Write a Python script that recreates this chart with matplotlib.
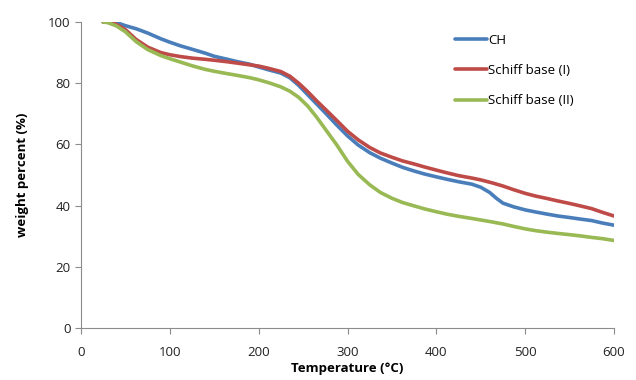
import matplotlib
matplotlib.use("Agg")
import matplotlib.pyplot as plt

temp_ch = [25, 30, 40, 50, 62, 75, 90, 100, 112, 125, 140, 150, 165, 175, 190, 200, 212, 225, 235, 245, 255, 265, 275, 288, 300, 312, 325, 337, 350, 362, 375, 387, 400, 412, 425, 440, 450, 460, 468, 475, 487, 500, 512, 525, 537, 550, 562, 575, 587, 600]
wt_ch = [100, 100.2, 99.8, 98.8, 97.8, 96.4, 94.5, 93.4, 92.2, 91.1, 89.8, 88.8, 87.8, 87.1, 86.2, 85.3, 84.3, 83.3, 81.8, 79.3, 76.3, 73.3, 70.3, 66.3, 62.8, 59.8, 57.3, 55.5, 53.9, 52.5, 51.3, 50.3, 49.4, 48.6, 47.8, 47.0, 46.0, 44.3, 42.3, 40.8, 39.6, 38.6, 37.9, 37.2, 36.6, 36.1, 35.6, 35.1, 34.3, 33.6]

temp_s1 = [25, 30, 40, 50, 62, 75, 90, 100, 112, 125, 140, 150, 165, 175, 190, 200, 212, 225, 235, 245, 255, 265, 275, 288, 300, 312, 325, 337, 350, 362, 375, 387, 400, 412, 425, 440, 450, 462, 475, 487, 500, 512, 525, 537, 550, 562, 575, 587, 600]
wt_s1 = [100, 100, 99.2, 97.5, 94.3, 91.8, 90.0, 89.3, 88.7, 88.2, 87.8, 87.5, 87.0, 86.6, 86.0, 85.6, 84.8, 83.8, 82.3, 80.0, 77.3, 74.3, 71.5, 67.8, 64.3, 61.5, 59.0, 57.2, 55.8, 54.6, 53.6, 52.6, 51.6, 50.7, 49.8, 49.0, 48.4, 47.5, 46.4, 45.2, 44.0, 43.1, 42.3, 41.5, 40.7, 39.9, 39.0, 37.8, 36.6]

temp_s2 = [25, 30, 40, 50, 62, 75, 90, 100, 112, 125, 140, 150, 165, 175, 190, 200, 212, 225, 235, 245, 255, 265, 275, 288, 300, 312, 325, 337, 350, 362, 375, 387, 400, 412, 425, 440, 450, 462, 475, 487, 500, 512, 525, 537, 550, 562, 575, 587, 600]
wt_s2 = [100, 99.8, 98.7, 96.8, 93.6, 91.0, 89.0, 88.0, 86.9, 85.7, 84.5, 83.9, 83.1, 82.6, 81.8, 81.1, 80.1, 78.8, 77.4, 75.4, 72.6, 69.0, 65.0, 59.8, 54.5, 50.2, 46.8, 44.3, 42.4, 41.0, 39.9, 38.9, 38.0, 37.2, 36.5, 35.8, 35.3, 34.7, 34.0, 33.2, 32.4, 31.8, 31.3, 30.9, 30.5, 30.1, 29.6, 29.2, 28.6]

labels = ["CH", "Schiff base (I)", "Schiff base (II)"]
colors = ["#4a7ebb", "#be4b48", "#98b954"]

plt.rcParams['font.family'] = ['Open Sans', 'DejaVu Sans']

fig = plt.figure(figsize=(6.36, 3.80), dpi=100)
ax = fig.add_axes([81/636, 1-328/380, (614-81)/636, (328-22)/380])

for t, w, lab, c in zip([temp_ch, temp_s1, temp_s2], [wt_ch, wt_s1, wt_s2], labels, colors):
    ax.plot(t, w, color=c, lw=2.6, label=lab, solid_capstyle='round', solid_joinstyle='round')

ax.set_xlim(0, 600)
ax.set_ylim(0, 100)
ax.set_xticks(range(0, 601, 100))
ax.set_yticks(range(0, 101, 20))
for s in ['top', 'right']:
    ax.spines[s].set_visible(False)
for s in ['left', 'bottom']:
    ax.spines[s].set_color('#8c8c8c')
ax.tick_params(axis='both', colors='#8c8c8c', labelcolor='#222222', labelsize=9.5, length=4, direction='out')
ax.tick_params(axis='x', pad=9)
ax.set_xlabel("Temperature (°C)", fontweight='bold', fontsize=9.5, labelpad=2)
ax.set_ylabel("weight percent (%)", fontweight='bold', fontsize=9.5, labelpad=14)

leg = ax.legend(loc='upper left', bbox_to_anchor=(0.68, 1.0), frameon=False, fontsize=9.5,
                handlelength=2.4, handletextpad=0.1, labelspacing=1.3)

fig.savefig("out.png", dpi=100)
